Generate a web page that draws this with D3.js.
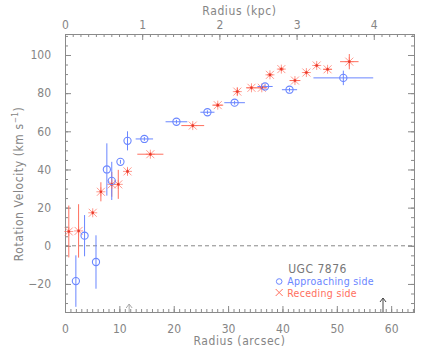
<!DOCTYPE html>
<head>
    <script src="https://d3js.org/d3.v7.min.js"></script>
    <style>
      body { margin: 0; background: #fff; }
      text { font-family: "Liberation Sans Narrow", "DejaVu Sans Condensed", "Liberation Sans", Arial, sans-serif; }
    </style>
</head>

<body>
    <div id="rotcurve"></div>
</body>

<script>

  // approaching side (blue circles)
  const approachR    = [2.0, 3.6, 5.7, 7.7, 8.6, 10.2, 11.5, 14.6, 20.5, 26.2, 31.2, 36.8, 41.3, 51.2];
  const approachV    = [-18.5, 5.3, -8.5, 40, 34, 44, 55, 56, 65, 70, 75, 83.5, 81.8, 88];
  const approachXErr = [0, 0, 0, 0, 0, 0, 0, 1.6, 2.0, 1.3, 1.9, 1.4, 1.4, 5.5];
  const approachYErr = [13.5, 10.8, 14, 13.7, 10, 1, 5, 1, 1, 1, 1, 1, 1, 3.8];

  // receding side (red asterisks)
  const recedeR    = [0.7, 2.5, 5.1, 6.6, 8.6, 9.8, 11.5, 15.7, 23.5, 28.1, 31.7, 34.3, 36.2, 37.7, 39.8, 42.3, 44.4, 46.3, 48.3, 52.3];
  const recedeV    = [7.5, 7.8, 17.3, 28.3, 32.2, 32.2, 39, 48, 63, 73.7, 80.8, 82.8, 82.8, 89.6, 92.6, 86.6, 90.8, 94.5, 92.5, 96.5];
  const recedeXErr = [0, 0, 0, 0, 0, 0, 0, 2.4, 2.1, 1, 0.5, 1, 1, 0.5, 0.5, 1, 0.5, 0.5, 0.8, 1.7];
  const recedeYErr = [13.6, 14, 1, 5, 6.5, 7.6, 1.5, 1, 1, 1, 2, 1, 1, 1, 1, 1, 1, 1, 1, 4];

  // arrows on the bottom axis (arcsec)
  const arrowR = [11.8, 58.5];

  // tick labels
  const xTicks   = [0, 10, 20, 30, 40, 50, 60];
  const kpcTicks = [0, 1, 2, 3, 4];
  const yTicks   = [-20, 0, 20, 40, 60, 80, 100];
  const arcsecPerKpc = 14.2;

  const margin = {top: 34, right: 22, bottom: 37, left: 65},
    width = 436 - margin.left - margin.right,
    height = 349 - margin.top - margin.bottom;

  const axisCol = "#8a8a8a", textCol = "#858585";
  const blue = "#6a86ff", red = "#ff6f5e";

  const svg = d3.select("#rotcurve")
    .append("svg")
    .attr("width", 436)
    .attr("height", 349)
    .append("g")
    .attr("transform", `translate(${margin.left}, ${margin.top})`);

  const x = d3.scaleLinear().domain([0, 64.2]).range([0, width]);
  const xk = d3.scaleLinear().domain([0, 64.2 / arcsecPerKpc]).range([0, width]);
  const y = d3.scaleLinear().domain([-34.7, 111]).range([height, 0]);

  function styleAxis(g, labels) {
    g.select(".domain").attr("stroke", axisCol);
    g.selectAll(".tick line").attr("stroke", axisCol);
    g.selectAll("text").attr("fill", textCol).style("font-size", "12px");
    if (!labels) g.selectAll("text").remove();
  }

  // minor ticks first, then majors
  const xMinor = d3.range(0, 65, 1), yMinor = d3.range(-30, 111, 5), kMinor = d3.range(0, 4.51, 0.1);

  svg.append("g").attr("transform", `translate(0, ${height})`)
    .call(d3.axisBottom(x).tickValues(xMinor).tickSize(-3).tickFormat(""))
    .call(g => styleAxis(g, false));
  svg.append("g").attr("transform", `translate(0, ${height})`)
    .call(d3.axisBottom(x).tickValues(xTicks).tickSize(-6).tickPadding(12))
    .call(g => styleAxis(g, true));

  svg.append("g")
    .call(d3.axisTop(xk).tickValues(kMinor).tickSize(-3).tickFormat(""))
    .call(g => styleAxis(g, false));
  svg.append("g")
    .call(d3.axisTop(xk).tickValues(kpcTicks).tickSize(-6).tickPadding(5).tickFormat(d3.format("d")))
    .call(g => styleAxis(g, true));

  svg.append("g")
    .call(d3.axisLeft(y).tickValues(yMinor).tickSize(-3).tickFormat(""))
    .call(g => styleAxis(g, false));
  svg.append("g")
    .call(d3.axisLeft(y).tickValues(yTicks).tickSize(-6).tickPadding(14).tickFormat(d => d < 0 ? "\u2212" + (-d) : d))
    .call(g => styleAxis(g, true));

  svg.append("g").attr("transform", `translate(${width}, 0)`)
    .call(d3.axisRight(y).tickValues(yMinor).tickSize(-3).tickFormat(""))
    .call(g => styleAxis(g, false));
  svg.append("g").attr("transform", `translate(${width}, 0)`)
    .call(d3.axisRight(y).tickValues(yTicks).tickSize(-6).tickFormat(""))
    .call(g => styleAxis(g, false));

  // axis titles
  svg.append("text")
    .attr("x", width / 2).attr("y", height + 33)
    .attr("text-anchor", "middle")
    .attr("fill", textCol).style("font-size", "12px").style("letter-spacing", "0.6px")
    .text("Radius (arcsec)");

  svg.append("text")
    .attr("x", width / 2).attr("y", -19)
    .attr("text-anchor", "middle")
    .attr("fill", textCol).style("font-size", "12px").style("letter-spacing", "0.6px")
    .text("Radius (kpc)");

  const yt = svg.append("text")
    .attr("transform", `translate(-42, ${height / 2 + 11}) rotate(-90)`)
    .attr("text-anchor", "middle")
    .attr("fill", textCol).style("font-size", "12px").style("letter-spacing", "0.6px");
  yt.append("tspan").text("Rotation Velocity (km s");
  yt.append("tspan").attr("dy", -5).style("font-size", "8px").text("\u22121");
  yt.append("tspan").attr("dy", 5).text(")");

  // zero line
  svg.append("line")
    .attr("x1", x(0)).attr("x2", width)
    .attr("y1", y(0)).attr("y2", y(0))
    .attr("stroke", "#888").attr("stroke-dasharray", "4,3");

  // arrows
  const arrowTop = [7, 13];
  const arrowCol = ["#aaa", "#444"];
  arrowR.forEach((r, i) => {
    const g = svg.append("g").attr("stroke", arrowCol[i]).attr("fill", "none");
    g.append("line").attr("x1", x(r)).attr("x2", x(r)).attr("y1", height).attr("y2", height - arrowTop[i] - 1);
    g.append("path").attr("d", `M${x(r) - 3},${height - arrowTop[i] + 3}L${x(r)},${height - arrowTop[i] - 1}L${x(r) + 3},${height - arrowTop[i] + 3}`);
  });

  // error bars
  function errBars(R, V, XE, YE, col) {
    const g = svg.append("g").attr("stroke", col).attr("stroke-width", 1);
    R.forEach((r, i) => {
      if (YE[i] > 0) g.append("line").attr("x1", x(r)).attr("x2", x(r))
        .attr("y1", y(V[i] - YE[i])).attr("y2", y(V[i] + YE[i]));
      if (XE[i] > 0) g.append("line").attr("x1", x(r - XE[i])).attr("x2", x(r + XE[i]))
        .attr("y1", y(V[i])).attr("y2", y(V[i]));
    });
  }
  errBars(recedeR, recedeV, recedeXErr, recedeYErr, red);
  errBars(approachR, approachV, approachXErr, approachYErr, blue);

  // receding markers: asterisks
  const ast = svg.append("g").attr("stroke", red).attr("stroke-width", 1);
  recedeR.forEach((r, i) => {
    const cx = x(r), cy = y(recedeV[i]);
    ast.append("path").attr("d",
      `M${cx - 4},${cy - 4}L${cx + 4},${cy + 4}M${cx - 4},${cy + 4}L${cx + 4},${cy - 4}` +
      `M${cx - 4.5},${cy}L${cx + 4.5},${cy}M${cx},${cy - 4.5}L${cx},${cy + 4.5}`)
      .attr("stroke-opacity", 0.7);
    ast.append("circle").attr("cx", cx).attr("cy", cy).attr("r", 1.3).attr("fill", "#e8392a").attr("stroke", "none");
  });

  // approaching markers: open circles
  svg.append("g").selectAll("circle")
    .data(approachR.map((r, i) => [r, approachV[i]]))
    .join("circle")
    .attr("cx", d => x(d[0])).attr("cy", d => y(d[1]))
    .attr("r", 3.6)
    .attr("fill", "none").attr("stroke", blue).attr("stroke-width", 1.1);

  // legend
  const lg = svg.append("g").attr("transform", `translate(${x(39.4)}, ${y(-14)})`);
  lg.append("text").attr("x", 9).attr("y", 0).attr("fill", "#777").style("font-size", "12px").style("letter-spacing", "0.5px").text("UGC 7876");
  lg.append("circle").attr("cx", 0).attr("cy", 9).attr("r", 2.8).attr("fill", "none").attr("stroke", blue);
  lg.append("text").attr("x", 8).attr("y", 12.5).attr("fill", blue).style("font-size", "10.5px").style("letter-spacing", "0.3px").text("Approaching side");
  lg.append("path").attr("d", "M-3.5,16.5L3.5,23.5M-3.5,23.5L3.5,16.5").attr("stroke", red);
  lg.append("text").attr("x", 8).attr("y", 24).attr("fill", red).style("font-size", "10.5px").style("letter-spacing", "0.3px").text("Receding side");

</script>
